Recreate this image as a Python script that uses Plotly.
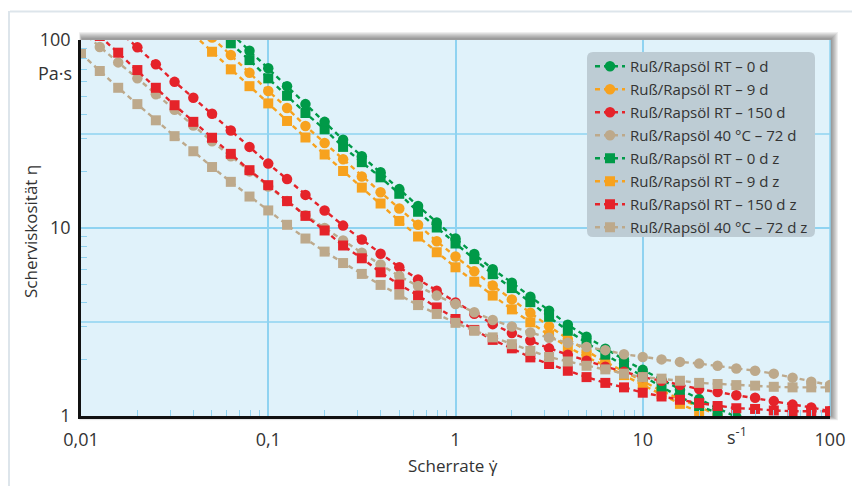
import plotly.graph_objects as go

# ---------------- data ----------------
shear_rate = [0.01, 0.0126, 0.0158, 0.02, 0.0251, 0.0316, 0.0398, 0.0501, 0.0631, 0.0794,
              0.1, 0.126, 0.158, 0.2, 0.251, 0.316, 0.398, 0.501, 0.631, 0.794,
              1, 1.26, 1.58, 2, 2.51, 3.16, 3.98, 5.01, 6.31, 7.94,
              10, 12.6, 15.8, 20, 25.1, 31.6, 39.8, 50.1, 63.1, 79.4, 100]

rt_0d = [None, None, None, None, None, None, None, None,
         109, 87.7, 70.7, 56.8, 45.6, 36.7, 29.5, 24.1, 19.8, 16.1, 13.1, 10.7,
         8.79, 7.27, 6.04, 5.12, 4.31, 3.63, 3.06, 2.64, 2.28, 1.99,
         1.76, 1.56, 1.38, 1.23, 1.10, 0.988, None, None, None, None, None]
rt_9d = [None, None, None, None, None, None, None,
         103, 83.2, 66.9, 53.6, 43.5, 34.9, 28.3, 23.2, 18.8, 15.5, 12.7, 10.4, 8.50,
         7.05, 5.88, 4.94, 4.17, 3.54, 3.00, 2.57, 2.22, 1.94, 1.72,
         1.52, 1.36, 1.23, 1.12, 1.01, None, None, None, None, None, None]
rt_150d = [None, None,
           112, 91.4, 74.2, 59.9, 49.3, 40.5, 33.0, 27.0, 22.0, 18.2, 15.0, 12.4, 10.3, 8.68, 7.29, 6.19, 5.33, 4.64,
           4.02, 3.50, 3.08, 2.76, 2.52, 2.29, 2.12, 1.97, 1.83, 1.72,
           1.61, 1.54, 1.46, 1.39, 1.34, 1.29, 1.25, 1.20, 1.15, 1.11, 1.06]
c40_72d = [112, 91.8, 76.0, 62.5, 51.5, 42.5, 35.1, 28.9, 24.1, 20.0,
           16.6, 13.9, 11.7, 10.0, 8.58, 7.38, 6.39, 5.55, 4.91, 4.37,
           3.94, 3.56, 3.24, 2.99, 2.78, 2.61, 2.45, 2.33, 2.24, 2.13,
           2.06, 2.00, 1.94, 1.90, 1.85, 1.79, 1.74, 1.68, 1.60, 1.52, 1.46]
rt_0d_z = [None, None, None, None, None, None, None, None,
           96.0, 78.2, 62.5, 50.5, 40.9, 33.5, 27.0, 22.4, 18.6, 15.2, 12.2, 10.06,
           8.27, 6.83, 5.68, 4.79, 4.03, 3.37, 2.84, 2.45, 2.12, 1.85,
           1.63, 1.43, 1.26, 1.13, 1.04, None, None, None, None, None, None]
rt_9d_z = [None, None, None, None, None, None,
           107, 86.6, 69.8, 56.8, 46.0, 37.1, 30.3, 24.6, 20.1, 16.4, 13.5, 10.9, 9.01, 7.43,
           6.18, 5.18, 4.37, 3.69, 3.15, 2.69, 2.33, 2.06, 1.85, 1.65,
           1.46, 1.31, 1.16, 1.05, None, None, None, None, None, None, None]
rt_150d_z = [None,
             105, 85.6, 69.2, 55.7, 45.0, 36.7, 30.2, 24.8, 20.3, 16.9, 13.9, 11.6, 9.70, 8.07, 6.90, 5.81, 5.00, 4.37, 3.78,
             3.28, 2.87, 2.54, 2.29, 2.05, 1.89, 1.74, 1.61, 1.50, 1.42,
             1.33, 1.27, 1.22, 1.17, 1.13, 1.10, 1.09, 1.07, 1.06, 1.06, 1.06]
c40_72d_z = [84.7, 68.4, 55.7, 45.6, 37.4, 30.8, 25.6, 21.1, 17.6, 14.7,
             12.4, 10.4, 8.79, 7.49, 6.51, 5.70, 4.98, 4.42, 3.89, 3.49,
             3.13, 2.84, 2.62, 2.41, 2.22, 2.06, 1.95, 1.85, 1.77, 1.68,
             1.61, 1.58, 1.54, 1.50, 1.48, 1.46, 1.45, 1.43, 1.42, 1.42, 1.42]

x_tick_vals = [0.01, 0.1, 1, 10, 100]
x_tick_text = ["0,01", "0,1", "1", "10", "100"]
y_tick_vals = [1, 10, 100]
y_tick_text = ["1", "10", "100"]
y_extra_grid = [3.162, 31.62]

labels = ["Ruß/Rapsöl RT – 0 d", "Ruß/Rapsöl RT – 9 d", "Ruß/Rapsöl RT – 150 d",
          "Ruß/Rapsöl 40 °C – 72 d", "Ruß/Rapsöl RT – 0 d z", "Ruß/Rapsöl RT – 9 d z",
          "Ruß/Rapsöl RT – 150 d z", "Ruß/Rapsöl 40 °C – 72 d z"]

# ---------------- styling ----------------
GREEN, ORANGE, RED, TAN = "#009a48", "#f7a21e", "#e5232a", "#bda98b"
TXT = "#333333"
GRID = "#8fd3f1"
FONT = "Open Sans"

# the page body adds an 8px offset; layout is specified in screen pixels
OFF = 8
W, H = 862 - OFF, 486 - OFF
PLOT_L, PLOT_R, PLOT_T, PLOT_B = 81, 830, 40, 416          # screen pixels
L, T = PLOT_L - OFF, PLOT_T - OFF
PW, PH = PLOT_R - PLOT_L, PLOT_B - PLOT_T
R, B = W - L - PW, H - T - PH


def px(x):
    return (x - PLOT_L) / PW


def py(y):
    return (PLOT_B - y) / PH


# drawing order (bottom -> top), with legend rank
series = [
    (rt_9d_z, labels[5], ORANGE, "square", 6),
    (rt_9d, labels[1], ORANGE, "circle", 2),
    (rt_0d_z, labels[4], GREEN, "square", 5),
    (rt_0d, labels[0], GREEN, "circle", 1),
    (rt_150d, labels[2], RED, "circle", 3),
    (c40_72d, labels[3], TAN, "circle", 4),
    (rt_150d_z, labels[6], RED, "square", 7),
    (c40_72d_z, labels[7], TAN, "square", 8),
]

fig = go.Figure()
for vals, name, col, sym, rank in series:
    fig.add_trace(go.Scatter(
        x=shear_rate, y=vals, name=name, mode="lines+markers",
        line=dict(color=col, width=2.4, dash="5px,4px"),
        marker=dict(symbol=sym, size=10.5 if sym == "circle" else 10, color=col, line=dict(width=0)),
        legendrank=rank, legendgroup=name, connectgaps=False,
    ))

shapes = []
# page decoration
shapes.append(dict(type="rect", xref="paper", yref="paper", x0=px(3), x1=px(10), y0=py(490), y1=py(11),
                   fillcolor="#dde5eb", line=dict(width=0), layer="below"))
shapes.append(dict(type="line", xref="paper", yref="paper", x0=px(10), x1=px(852), y0=py(11.5), y1=py(11.5),
                   line=dict(color="#dde5eb", width=2), layer="below"))
# drop shadow of plot area
for i in range(7, 0, -1):
    shapes.append(dict(type="rect", xref="paper", yref="paper",
                       x0=px(PLOT_L + 1 - i * 0.4), x1=px(PLOT_R + 1 + i),
                       y0=py(PLOT_B + i * 0.6), y1=py(PLOT_T - 1 - i),
                       fillcolor="rgba(0,0,0,0.065)", line=dict(width=0), layer="below"))
# plot background
shapes.append(dict(type="rect", xref="paper", yref="paper", x0=0, x1=1, y0=0, y1=1,
                   fillcolor="#e0f2fa", line=dict(width=0), layer="below"))
# half-decade horizontal gridlines
for gv in y_extra_grid:
    shapes.append(dict(type="line", xref="paper", yref="y", x0=0, x1=1, y0=gv, y1=gv,
                       line=dict(color=GRID, width=1.5), layer="below"))
# right edge line
shapes.append(dict(type="line", xref="paper", yref="paper", x0=1, x1=1, y0=0, y1=1,
                   line=dict(color=GRID, width=1.5), layer="below"))

# rounded legend box
lx0, lx1, ly0, ly1, rr = 587, 815, 52, 237, 6
path = (f"M {px(lx0 + rr)},{py(ly0)} L {px(lx1 - rr)},{py(ly0)} Q {px(lx1)},{py(ly0)} {px(lx1)},{py(ly0 + rr)} "
        f"L {px(lx1)},{py(ly1 - rr)} Q {px(lx1)},{py(ly1)} {px(lx1 - rr)},{py(ly1)} "
        f"L {px(lx0 + rr)},{py(ly1)} Q {px(lx0)},{py(ly1)} {px(lx0)},{py(ly1 - rr)} "
        f"L {px(lx0)},{py(ly0 + rr)} Q {px(lx0)},{py(ly0)} {px(lx0 + rr)},{py(ly0)} Z")
shapes.append(dict(type="path", xref="paper", yref="paper", path=path,
                   fillcolor="#bdccd4", line=dict(width=0), layer="above"))

x_minor = [0.02, 0.03, 0.04, 0.05, 0.06, 0.07, 0.08, 0.09,
           0.2, 0.3, 0.4, 0.5, 0.6, 0.7, 0.8, 0.9,
           2, 3, 4, 5, 6, 7, 8, 9, 20, 30, 40, 50, 60, 70, 80, 90]
y_minor = [2, 3, 4, 5, 6, 7, 8, 9, 20, 30, 40, 50, 60, 70, 80, 90]

FS = 18
annotations = [
    dict(text="Pa·s", xref="paper", yref="paper", x=px(74), y=py(73), xanchor="right", yanchor="middle",
         showarrow=False, font=dict(family=FONT, size=FS, color=TXT)),
    dict(text="s<sup>-1</sup>", xref="paper", yref="paper", x=px(737), y=py(436), xanchor="center", yanchor="middle",
         showarrow=False, font=dict(family=FONT, size=FS, color=TXT)),
    dict(text="Scherviskosität η", xref="paper", yref="paper", x=px(30), y=py(232), xanchor="center",
         yanchor="middle", textangle=-90, showarrow=False, font=dict(family=FONT, size=FS - 1, color=TXT)),
    dict(text="Scherrate γ̇", xref="paper", yref="paper", x=px(453), y=py(466), xanchor="center",
         yanchor="middle", showarrow=False, font=dict(family=FONT, size=FS - 1, color=TXT)),
]

fig.update_layout(
    width=W, height=H, margin=dict(l=L, r=R, t=T, b=B),
    paper_bgcolor="white", plot_bgcolor="rgba(0,0,0,0)",
    font=dict(family=FONT, size=FS, color=TXT),
    shapes=shapes, annotations=annotations,
    showlegend=True,
    legend=dict(x=px(lx0 + 3), y=py(ly0 - 2), xanchor="left", yanchor="top",
                bgcolor="rgba(0,0,0,0)", borderwidth=0, traceorder="grouped", tracegroupgap=0.5,
                font=dict(family=FONT, size=15, color=TXT), itemwidth=30),
    xaxis=dict(type="log", range=[-2, 2], tickvals=x_tick_vals, ticktext=x_tick_text,
               showgrid=True, gridcolor=GRID, gridwidth=1.5, ticks="", ticklabelstandoff=6,
               showline=True, linecolor="#111111", linewidth=2.5, zeroline=False,
               tickfont=dict(family=FONT, size=FS, color=TXT),
               minor=dict(tickvals=x_minor, ticks="inside", ticklen=6, tickcolor=GRID, tickwidth=1.3,
                          showgrid=False)),
    yaxis=dict(type="log", range=[0, 2], tickvals=y_tick_vals, ticktext=y_tick_text,
               showgrid=True, gridcolor=GRID, gridwidth=1.5, ticks="", ticklabelstandoff=4,
               showline=True, linecolor="#111111", linewidth=2.5, zeroline=False,
               tickfont=dict(family=FONT, size=FS, color=TXT),
               minor=dict(tickvals=y_minor, ticks="inside", ticklen=6, tickcolor=GRID, tickwidth=1.3,
                          showgrid=False)),
)

fig.write_html("out.html")
